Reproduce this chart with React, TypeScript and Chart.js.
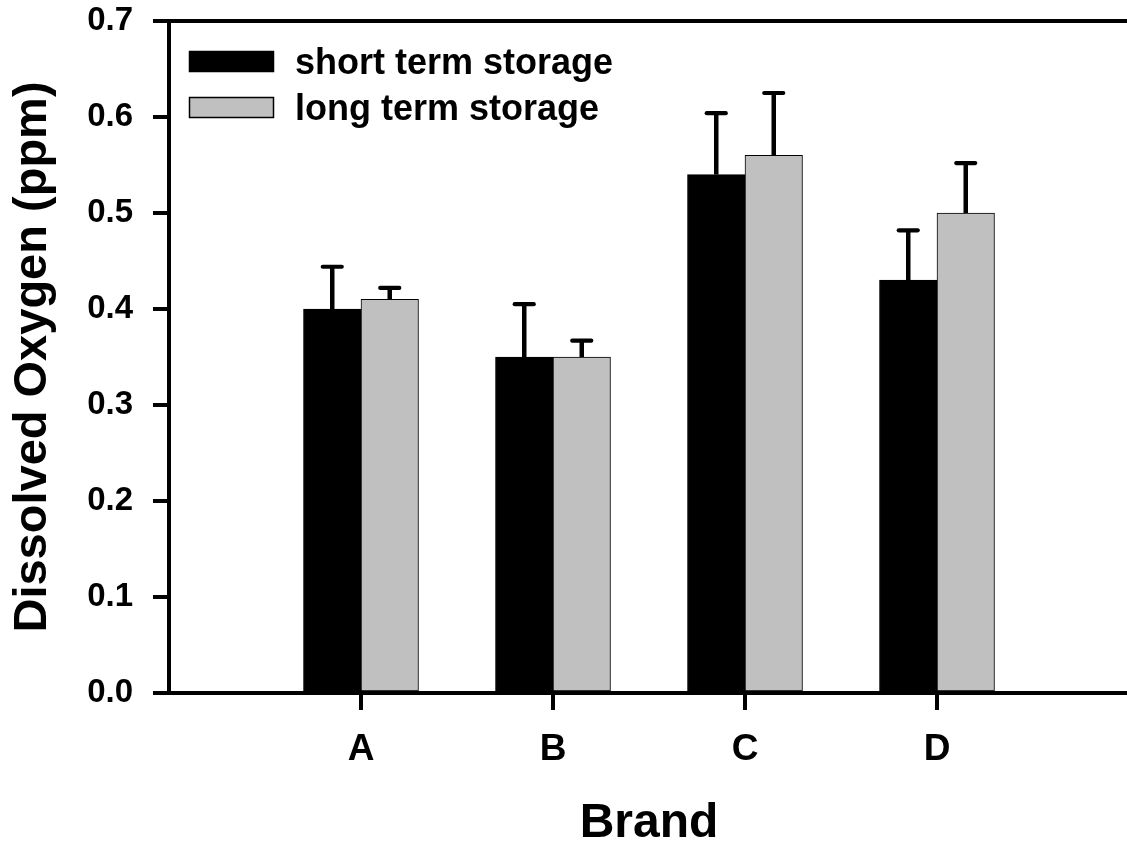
import { useEffect, useRef } from 'react';
import { Chart, registerables } from 'chart.js';

Chart.register(...registerables);

// Dissolved oxygen per brand, with one-sided (upper) error bars
const brands = ['A', 'B', 'C', 'D'];
const shortTerm = [0.40, 0.35, 0.54, 0.43];
const longTerm = [0.41, 0.35, 0.56, 0.50];
const shortTermErr = [0.044, 0.055, 0.064, 0.052];
const longTermErr = [0.012, 0.017, 0.065, 0.052];
const seriesLabels = ['short term storage', 'long term storage'];
const seriesColors = ['#000000', '#c0c0c0'];

const FONT = 'Liberation Sans, Arial, Helvetica, sans-serif';
const CANVAS_W = 1140;
const CANVAS_H = 853;
const PLOT_BOTTOM = 693;

// Upper error bars: vertical stem from the bar top to a short rounded cap
const errorBarsPlugin = {
  id: 'errorBars',
  afterDatasetsDraw(chart: any) {
    const { ctx } = chart;
    const yScale = chart.scales.y;
    ctx.save();
    ctx.strokeStyle = '#000';
    chart.data.datasets.forEach((ds: any, di: number) => {
      const meta = chart.getDatasetMeta(di);
      meta.data.forEach((bar: any, i: number) => {
        const v = ds.data[i].y;
        const err = ds.errors[i];
        const top = yScale.getPixelForValue(v + err);
        ctx.lineWidth = 4.5;
        ctx.lineCap = 'butt';
        ctx.beginPath();
        ctx.moveTo(bar.x, bar.y);
        ctx.lineTo(bar.x, top);
        ctx.stroke();
        ctx.lineWidth = 4.2;
        ctx.lineCap = 'round';
        ctx.beginPath();
        ctx.moveTo(bar.x - 9.5, top);
        ctx.lineTo(bar.x + 9.5, top);
        ctx.stroke();
      });
    });
    ctx.restore();
  },
};

// Top and right edges of the plot frame, plus outward tick marks under each brand
const framePlugin = {
  id: 'frame',
  afterDraw(chart: any) {
    const { ctx, chartArea } = chart;
    const xScale = chart.scales.x;
    ctx.save();
    ctx.strokeStyle = '#000';
    ctx.lineWidth = 4;
    ctx.lineCap = 'butt';
    ctx.beginPath();
    ctx.moveTo(chartArea.left, chartArea.top);
    ctx.lineTo(chartArea.right + 2, chartArea.top);
    ctx.moveTo(chartArea.right, chartArea.top);
    ctx.lineTo(chartArea.right, chartArea.bottom);
    xScale.ticks.forEach((t: any) => {
      const px = Math.round(xScale.getPixelForValue(t.value));
      ctx.moveTo(px, chartArea.bottom);
      ctx.lineTo(px, chartArea.bottom + 17);
    });
    ctx.stroke();
    ctx.restore();
  },
};

// Legend inside the plot, top-left
const insideLegendPlugin = {
  id: 'insideLegend',
  afterDraw(chart: any) {
    const { ctx, chartArea } = chart;
    const boxX = chartArea.left + 20;
    const boxW = 85;
    const boxH = 21;
    const firstTop = chartArea.top + 30;
    const step = 46;
    ctx.save();
    ctx.font = `bold 36px ${FONT}`;
    ctx.textBaseline = 'alphabetic';
    ctx.textAlign = 'left';
    chart.data.datasets.forEach((ds: any, i: number) => {
      const y = firstTop + i * step;
      ctx.fillStyle = ds.backgroundColor;
      ctx.fillRect(boxX, y, boxW, boxH);
      ctx.lineWidth = 1.5;
      ctx.strokeStyle = '#000';
      ctx.strokeRect(boxX + 0.5, y + 0.5, boxW - 1, boxH - 1);
      ctx.fillStyle = '#000';
      ctx.fillText(ds.label, boxX + boxW + 21, y + boxH + 2);
    });
    ctx.restore();
  },
};

export default function App() {
  const canvasRef = useRef<HTMLCanvasElement | null>(null);

  useEffect(() => {
    const canvas = canvasRef.current;
    if (!canvas) return;
    const series = [shortTerm, longTerm];
    const errors = [shortTermErr, longTermErr];
    const chart = new Chart(canvas, {
      type: 'bar',
      data: {
        datasets: series.map((values, s) => ({
          label: seriesLabels[s],
          data: values.map((v, i) => ({ x: i + 1, y: v })),
          errors: errors[s],
          backgroundColor: seriesColors[s],
          borderColor: '#000',
          borderWidth: 1,
          borderSkipped: false,
          barThickness: 57.5,
        })) as any,
      },
      options: {
        responsive: false,
        animation: false,
        devicePixelRatio: 1,
        layout: { padding: { top: 21, right: 11, left: 0, bottom: 0 } },
        plugins: {
          legend: { display: false },
          tooltip: { enabled: false },
        },
        scales: {
          x: {
            type: 'linear',
            min: 0,
            max: 5,
            offset: false,
            afterBuildTicks(scale: any) {
              scale.ticks = brands.map((_, i) => ({ value: i + 1 }));
            },
            afterFit(scale: any) {
              scale.height = CANVAS_H - PLOT_BOTTOM;
              scale.paddingLeft = 0;
              scale.paddingRight = 0;
            },
            ticks: {
              callback: (value: any) => brands[Number(value) - 1] ?? '',
              color: '#000',
              font: { family: FONT, size: 37, weight: 'bold' },
              padding: 19,
              maxRotation: 0,
              autoSkip: false,
            },
            grid: {
              display: false,
              offset: false,
              drawOnChartArea: false,
              drawTicks: true,
              tickLength: 16,
            },
            border: { display: true, width: 4, color: '#000' },
            title: {
              display: true,
              text: 'Brand',
              color: '#000',
              font: { family: FONT, size: 48, weight: 'bold' },
              padding: { top: 0, bottom: 0 },
            },
          },
          y: {
            min: 0,
            max: 0.7,
            afterFit(scale: any) {
              scale.width = 169;
              scale.paddingTop = 0;
              scale.paddingBottom = 0;
            },
            ticks: {
              stepSize: 0.1,
              callback: (value: any) => Number(value).toFixed(1),
              color: '#000',
              font: { family: FONT, size: 33, weight: 'bold' },
              padding: 20,
            },
            grid: {
              display: true,
              drawOnChartArea: false,
              drawTicks: true,
              tickLength: 16,
              lineWidth: 4,
              color: '#000',
            },
            border: { display: true, width: 4, color: '#000' },
            title: {
              display: true,
              text: 'Dissolved Oxygen (ppm)',
              color: '#000',
              font: { family: FONT, size: 47, weight: 'bold' },
              padding: { top: 5, bottom: 0 },
            },
          },
        },
      },
      plugins: [errorBarsPlugin, framePlugin, insideLegendPlugin],
    });
    return () => chart.destroy();
  }, []);

  return (
    <div
      style={{
        position: 'fixed',
        left: 0,
        top: 0,
        width: 1127,
        height: 846,
        overflow: 'hidden',
        background: '#fff',
      }}
    >
      <canvas
        ref={canvasRef}
        width={CANVAS_W}
        height={CANVAS_H}
        style={{ display: 'block', width: CANVAS_W, height: CANVAS_H }}
      />
    </div>
  );
}
